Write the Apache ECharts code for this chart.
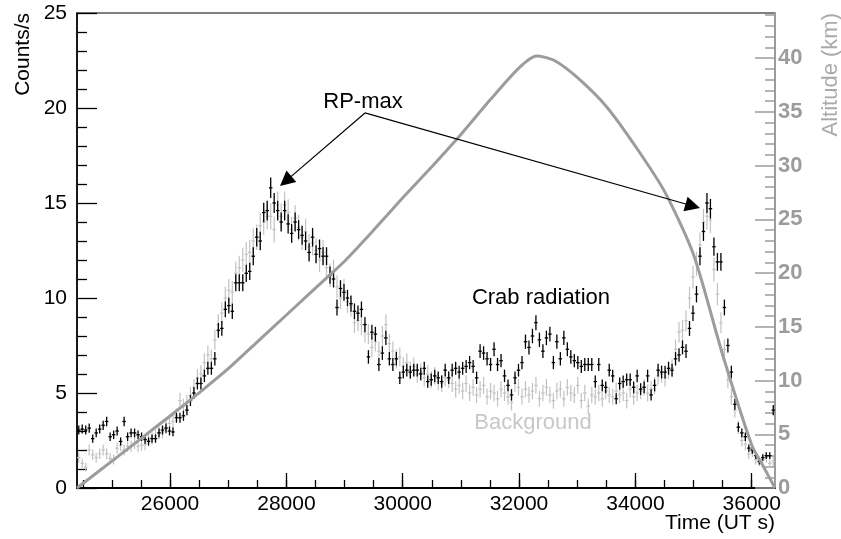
<!DOCTYPE html>
<html>
<head>
<meta charset="utf-8">
<title>Counts/s and altitude vs time</title>
<script src="https://cdn.jsdelivr.net/npm/echarts@6/dist/echarts.min.js"></script>
<style>
  html, body { margin: 0; padding: 0; background: #fff; }
  #chart { width: 841px; height: 539px; }
</style>
</head>
<body>
<div id="chart"></div>
<script>
// Histogram binning (seconds, UT)
const BIN_START = 24400;
const BIN_WIDTH = 60;

// On-source counting rate per 60 s bin (Counts/s)
const signalRate = [
  3.05, 3.1, 3.05, 3.15, 2.6, 2.9, 3.1, 3.3, 3.5, 2.7,
  2.8, 3.0, 2.45, 3.5, 2.7, 2.9, 2.9, 2.8, 2.7, 2.55,
  2.45, 2.6, 2.6, 2.9, 3.05, 3.15, 3.0, 2.95, 3.7, 3.7,
  3.8, 4.1, 4.6, 5.0, 5.5, 5.5, 5.9, 6.3, 6.3, 6.8,
  8.3, 8.4, 9.4, 9.6, 9.3, 10.8, 10.8, 10.8, 11.3, 11.4,
  12.2, 13.2, 13.0, 14.5, 14.6, 15.8, 15.0, 14.6, 14.0, 14.6,
  13.9, 13.4, 14.0, 13.6, 13.3, 13.0, 12.4, 13.2, 12.3, 12.6,
  12.2, 12.2, 11.2, 11.0, 9.5, 10.5, 10.3, 10.0, 9.7, 9.3,
  9.2, 9.4, 8.6, 6.9, 8.2, 8.1, 6.5, 7.1, 7.9, 6.8,
  6.5, 6.8, 5.8, 6.1, 6.2, 6.1, 6.2, 6.2, 6.0, 6.3,
  5.6, 5.7, 5.9, 5.8, 5.6, 6.2, 5.8, 6.2, 6.3, 6.1,
  6.3, 6.4, 6.6, 6.4, 5.8, 7.2, 7.1, 6.8, 6.5, 7.3,
  6.5, 6.7, 5.9, 5.4, 4.9, 5.8, 6.2, 6.6, 7.7, 7.4,
  8.0, 8.7, 7.8, 7.2, 7.9, 8.1, 6.6, 7.7, 6.8, 7.9,
  7.3, 6.9, 6.7, 6.6, 6.4, 6.5, 6.5, 6.5, 5.6, 6.5,
  5.4, 5.3, 6.2, 5.9, 4.7, 5.5, 5.6, 5.7, 5.7, 5.3,
  5.9, 5.2, 5.3, 5.9, 4.9, 5.4, 6.2, 6.1, 6.1, 6.3,
  6.2, 6.8, 7.0, 7.4, 7.2, 8.4, 9.2, 10.2, 12.2, 13.5,
  15.0, 14.7, 12.7, 11.9, 11.9, 9.5, 7.5, 6.1, 4.4, 3.2,
  2.9, 2.7, 2.1, 2.0, 1.7, 1.4, 1.6, 1.7, 1.7, 4.1
];

// Background counting rate per 60 s bin (Counts/s)
const backgroundRate = [
  1.6, 1.3, 1.1, 2.0, 1.75, 1.6, 1.8, 2.0, 1.8, 1.55,
  1.5, 2.1, 2.25, 2.0, 2.2, 2.2, 2.35, 2.2, 2.25, 2.3,
  2.5, 2.6, 2.75, 2.9, 2.95, 3.2, 3.4, 3.5, 3.8, 4.6,
  4.3, 4.5, 4.9, 5.3, 5.8, 6.0, 6.6, 7.0, 6.8, 7.8,
  8.6, 9.2, 10.0, 10.4, 10.3, 11.3, 11.6, 12.0, 12.3, 12.4,
  13.0, 13.2, 13.8, 14.0, 14.3, 14.3, 13.6, 14.9, 14.3, 14.9,
  14.5, 13.6, 14.2, 13.7, 13.2, 13.5, 12.7, 12.9, 12.5, 12.0,
  12.4, 11.6, 11.2, 11.4, 10.6, 10.0, 10.4, 9.8, 9.6, 8.7,
  8.8, 8.6, 8.2, 8.1, 7.4, 7.7, 7.2, 8.0, 8.6, 7.6,
  7.2, 6.8, 6.9, 6.4, 6.6, 6.2, 6.4, 6.0, 6.1, 5.8,
  6.0, 5.7, 5.9, 5.6, 5.5, 5.8, 5.7, 5.5, 5.2, 5.4,
  5.1, 5.5, 5.0, 5.3, 4.9, 5.2, 5.4, 4.8, 5.1, 5.0,
  4.7, 5.2, 5.0, 4.8, 4.5, 5.5, 5.3, 4.8, 5.2, 4.9,
  5.1, 5.4, 4.7, 5.0, 5.3, 4.9, 4.6, 5.1, 5.2, 4.7,
  5.3, 5.0, 4.9, 5.4, 4.6, 5.0, 4.3, 4.9, 4.8, 5.0,
  4.7, 5.1, 4.9, 4.8, 5.1, 4.9, 5.0, 4.6, 5.2, 4.8,
  5.0, 5.1, 5.3, 5.0, 5.2, 5.4, 5.9, 6.0, 5.8, 6.2,
  6.3, 7.3, 8.2, 8.3, 8.8, 10.0, 11.1, 11.8, 12.8, 14.0,
  14.3, 14.1, 11.5, 10.2, 8.7, 7.3, 5.7, 4.8, 4.1, 3.2,
  2.5, 2.3, 1.8, 1.9, 1.5, 1.4, 1.5, 1.6, 1.3, 1.4
];

// Balloon altitude profile (UT s, km)
const altitudeTime = [24400, 25000, 25500, 26000, 26600, 27000, 27500, 28000, 28700, 29000,
  29500, 30000, 30500, 31000, 31500, 32000, 32300, 32600, 33000, 33500,
  34000, 34500, 35000, 35500, 36000, 36200, 36400];
const altitudeKm = [0, 2.5, 4.6, 6.7, 9.3, 11.1, 13.6, 16.1, 19.6, 21.1,
  24.0, 27.0, 29.9, 32.9, 36.1, 39.1, 40.2, 39.8, 38.2, 35.5,
  31.8, 27.6, 21.7, 12.4, 4.0, 2.0, 0];

// Axis ticks
const timeTicks = [26000, 28000, 30000, 32000, 34000, 36000];
const altitudeTicks = [0, 5, 10, 15, 20, 25, 30, 35, 40];

const TIME_MIN = 24400, TIME_MAX = 36400;
const RATE_MAX = 25;
const ALT_MAX = 44.2;

const FONT = "'Liberation Sans', Arial, Helvetica, sans-serif";
const ALT_GREY = '#9c9c9c';

const timeMinorTicks = [];
for (let t = 24500; t <= TIME_MAX; t += 500) timeMinorTicks.push(t);
const altitudeMinorTicks = [];
for (let a = 1; a <= 44; a += 1) altitudeMinorTicks.push(a);

const binCentre = i => BIN_START + BIN_WIDTH * (i + 0.5);
const signalData = signalRate.map((v, i) => [binCentre(i), v]);
const backgroundData = backgroundRate.map((v, i) => [binCentre(i), v]);
const altitudeData = altitudeTime.map((t, i) => [t, altitudeKm[i]]);

// Error cross: vertical statistical bar plus horizontal bin-width bar
function errorCross(color, width, errOf) {
  return function (params, api) {
    const t = api.value(0), v = api.value(1), e = errOf(v);
    const c = api.coord([t, v]);
    const hi = api.coord([t, v + e]);
    const lo = api.coord([t, Math.max(0, v - e)]);
    const l = api.coord([t - BIN_WIDTH / 2, v]);
    const r = api.coord([t + BIN_WIDTH / 2, v]);
    const style = { stroke: color, lineWidth: width };
    return {
      type: 'group',
      children: [
        { type: 'line', shape: { x1: c[0], y1: hi[1], x2: c[0], y2: lo[1] }, style },
        { type: 'line', shape: { x1: l[0], y1: c[1], x2: r[0], y2: c[1] }, style }
      ]
    };
  };
}

const chart = echarts.init(document.getElementById('chart'), null, { renderer: 'canvas' });

const tickStyle = { color: '#000', width: 1.3 };

chart.setOption({
  animation: false,
  backgroundColor: '#fff',
  textStyle: { fontFamily: FONT },
  grid: { left: 77, right: 66, top: 13, bottom: 51, show: true, borderColor: '#000', borderWidth: 1.2, backgroundColor: 'transparent' },
  xAxis: [
    {
      type: 'value', min: TIME_MIN, max: TIME_MAX, position: 'bottom',
      axisLine: { show: true, lineStyle: { color: '#000', width: 2 } },
      axisTick: { show: true, inside: true, length: 15, customValues: timeTicks, lineStyle: tickStyle },
      axisLabel: { customValues: timeTicks, formatter: v => String(v), color: '#000', fontSize: 21, margin: 6, fontFamily: FONT },
      splitLine: { show: false }
    },
    {
      type: 'value', min: TIME_MIN, max: TIME_MAX, position: 'bottom',
      axisLine: { show: false },
      axisTick: { show: true, inside: true, length: 8, customValues: timeMinorTicks, lineStyle: tickStyle },
      axisLabel: { show: false },
      splitLine: { show: false }
    }
  ],
  yAxis: [
    {
      type: 'value', min: 0, max: RATE_MAX, interval: 5, position: 'left',
      axisLine: { show: true, lineStyle: { color: '#000', width: 1.5 } },
      axisTick: { show: true, inside: true, length: 20, lineStyle: tickStyle },
      minorTick: { show: true, splitNumber: 5, length: 10, lineStyle: tickStyle },
      axisLabel: { color: '#000', fontSize: 21, margin: 10, fontFamily: FONT },
      splitLine: { show: false }
    },
    {
      type: 'value', min: 0, max: ALT_MAX, position: 'right',
      axisLine: { show: true, lineStyle: { color: ALT_GREY, width: 2 } },
      axisTick: { show: true, inside: true, length: 20, customValues: altitudeTicks, lineStyle: { color: ALT_GREY, width: 1.5 } },
      axisLabel: { customValues: altitudeTicks, color: ALT_GREY, fontWeight: 'bold', fontSize: 22, margin: 3, fontFamily: FONT },
      splitLine: { show: false }
    },
    {
      type: 'value', min: 0, max: ALT_MAX, position: 'right',
      axisLine: { show: false },
      axisTick: { show: true, inside: true, length: 10, customValues: altitudeMinorTicks, lineStyle: { color: ALT_GREY, width: 1.5 } },
      axisLabel: { show: false },
      splitLine: { show: false }
    }
  ],
  series: [
    {
      name: 'Background',
      type: 'custom',
      xAxisIndex: 0, yAxisIndex: 0,
      data: backgroundData,
      encode: { x: 0, y: 1 },
      clip: true,
      z: 2,
      renderItem: errorCross('#c2c2c2', 1.2, v => 0.05 + 0.17 * Math.sqrt(v))
    },
    {
      name: 'Signal',
      type: 'custom',
      xAxisIndex: 0, yAxisIndex: 0,
      data: signalData,
      encode: { x: 0, y: 1 },
      clip: true,
      z: 3,
      renderItem: errorCross('#000', 1.3, v => 0.135 * Math.sqrt(v)),
      markLine: {
        silent: true,
        symbol: ['none', 'triangle'],
        symbolSize: 15,
        lineStyle: { color: '#000', width: 1.2, type: 'solid' },
        label: { show: false },
        emphasis: { disabled: true },
        data: [
          [{ coord: [29351, 19.74] }, { coord: [27988, 16.15] }],
          [{ coord: [29351, 19.74] }, { coord: [34986, 14.84] }]
        ]
      }
    },
    {
      name: 'Altitude',
      type: 'line',
      xAxisIndex: 0, yAxisIndex: 1,
      data: altitudeData,
      smooth: 0.25,
      showSymbol: false,
      symbol: 'none',
      clip: true,
      z: 4,
      lineStyle: { color: ALT_GREY, width: 3 }
    }
  ],
  graphic: [
    { type: 'text', x: 23, y: 13, rotation: Math.PI / 2,
      style: { text: 'Counts/s', font: `21px ${FONT}`, fill: '#000', align: 'right', verticalAlign: 'middle' } },
    { type: 'text', x: 831, y: 13, rotation: Math.PI / 2,
      style: { text: 'Altitude (km)', font: `22px ${FONT}`, fill: '#aaaaaa', align: 'right', verticalAlign: 'middle' } },
    { type: 'text', x: 775, y: 523,
      style: { text: 'Time (UT s)', font: `21px ${FONT}`, fill: '#000', align: 'right', verticalAlign: 'middle' } },
    { type: 'text', x: 363, y: 102,
      style: { text: 'RP-max', font: `22px ${FONT}`, fill: '#000', align: 'center', verticalAlign: 'middle' } },
    { type: 'text', x: 541, y: 298,
      style: { text: 'Crab radiation', font: `22px ${FONT}`, fill: '#000', align: 'center', verticalAlign: 'middle' } },
    { type: 'text', x: 533, y: 423,
      style: { text: 'Background', font: `22px ${FONT}`, fill: '#c8c8c8', align: 'center', verticalAlign: 'middle' } }
  ]
});
</script>
</body>
</html>
